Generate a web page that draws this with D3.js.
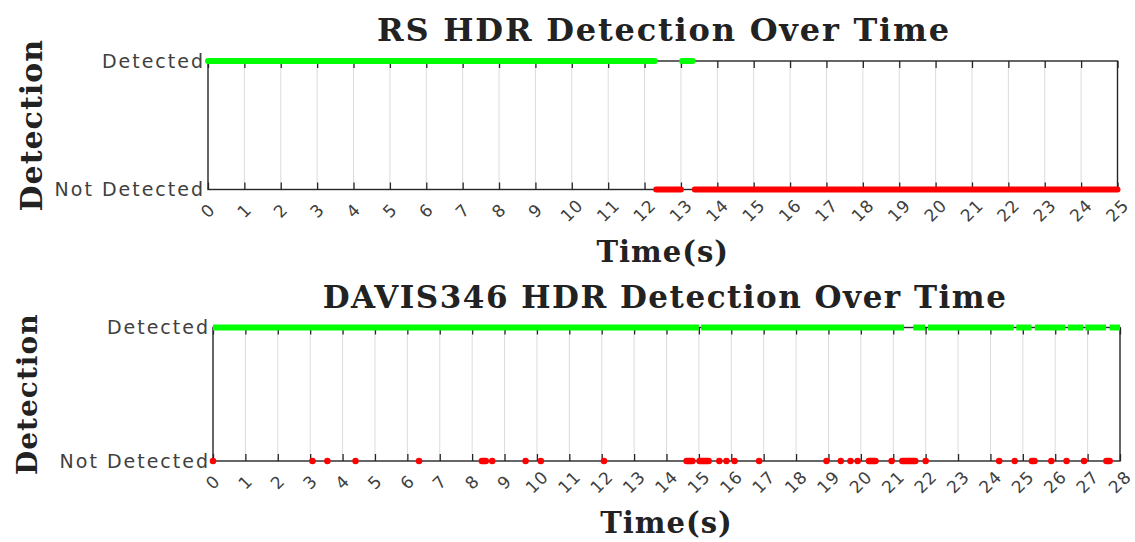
<!DOCTYPE html>
<html>
<head>
<meta charset="utf-8">
<script src="https://cdn.jsdelivr.net/npm/d3@7"></script>
<style>
  body { margin: 0; background: #fff; }
  svg { display: block; }
  .title, .xlabel, .ylabel { font-family: 'DejaVu Serif', serif; font-weight: bold; fill: #222; }
  .tick-label { font-family: 'DejaVu Sans', sans-serif; fill: #404040; }
</style>
</head>
<body>
<svg id="chart" width="1135" height="542"></svg>
<script>
// RS camera: detected / not detected intervals, seconds
const rsTicks = d3.range(0, 26);
const rsDetected = [[0, 12.28], [13.03, 13.32]];
const rsNotDetected = [[12.32, 13.0], [13.38, 25]];

// DAVIS346 camera
const davisTicks = d3.range(0, 29);
const davisDetected = [
    [0, 15.0], [15.07, 21.33], [21.62, 21.98], [22.07, 24.72], [24.8, 25.27],
    [25.37, 26.31], [26.39, 26.86], [26.93, 27.57], [27.68, 28]
];
const davisNotDetected = [
    [0, 0], [3.07, 3.07], [3.53, 3.53], [4.4, 4.4], [6.36, 6.36], [8.3, 8.42],
    [8.62, 8.62], [9.65, 9.65], [10.12, 10.12], [12.07, 12.07], [14.62, 14.8],
    [15.02, 15.3], [15.63, 15.63], [15.85, 15.85], [16.1, 16.1], [16.86, 16.86],
    [18.94, 18.94], [19.38, 19.38], [19.68, 19.68], [19.9, 19.9], [20.25, 20.45],
    [20.95, 20.95], [21.28, 21.68], [22.0, 22.0], [24.27, 24.27], [24.75, 24.75],
    [25.28, 25.36], [25.88, 25.88], [26.35, 26.35], [26.89, 26.89], [27.58, 27.68]
];

const yCategories = ['Not Detected', 'Detected'];

const svg = d3.select('#chart');

function drawPanel(cfg) {
    var x = d3.scaleLinear().domain(cfg.xDomain).range([cfg.left, cfg.right]);
    var y = d3.scalePoint().domain(yCategories).range([cfg.bottom, cfg.top]);
    var g = svg.append('g');

    // grid
    g.append('g').selectAll('line')
        .data(cfg.ticks.slice(1, -1))
        .enter().append('line')
        .attr('x1', d => x(d)).attr('x2', d => x(d))
        .attr('y1', cfg.top).attr('y2', cfg.bottom)
        .attr('stroke', '#dcdcdc').attr('stroke-width', 1);

    // inward ticks, bottom and top
    var xb = d3.axisTop(x).tickValues(cfg.ticks).tickSize(7).tickFormat('');
    var xt = d3.axisBottom(x).tickValues(cfg.ticks).tickSize(7).tickFormat('');
    g.append('g').attr('transform', 'translate(0,' + cfg.bottom + ')').call(xb)
        .call(s => s.select('.domain').remove())
        .selectAll('line').attr('stroke', '#262626').attr('stroke-width', 1.3);
    g.append('g').attr('transform', 'translate(0,' + cfg.top + ')').call(xt)
        .call(s => s.select('.domain').remove())
        .selectAll('line').attr('stroke', '#262626').attr('stroke-width', 1.3);

    // box
    g.append('rect')
        .attr('x', cfg.left).attr('y', cfg.top)
        .attr('width', cfg.right - cfg.left).attr('height', cfg.bottom - cfg.top)
        .attr('fill', 'none').attr('stroke', '#262626').attr('stroke-width', 1.4);

    // x tick labels
    g.append('g').selectAll('text')
        .data(cfg.ticks)
        .enter().append('text')
        .attr('class', 'tick-label')
        .attr('transform', d => 'translate(' + x(d) + ',' + (cfg.bottom + 21) + ') rotate(-45)')
        .attr('text-anchor', 'middle')
        .attr('dy', '0.35em')
        .style('font-size', cfg.tickSize + 'px')
        .style('letter-spacing', '1px')
        .text(d => d);

    // y tick labels
    g.append('g').selectAll('text')
        .data(yCategories)
        .enter().append('text')
        .attr('class', 'tick-label')
        .attr('x', cfg.left - 3)
        .attr('y', d => y(d))
        .attr('dy', '0.36em')
        .attr('text-anchor', 'end')
        .style('font-size', '19px')
        .style('letter-spacing', '2px')
        .text(d => d);

    // detection series
    function drawRuns(data, level, color, width, cap) {
        g.append('g').selectAll('line')
            .data(data)
            .enter().append('line')
            .attr('x1', d => x(d[0])).attr('x2', d => x(d[1]))
            .attr('y1', y(level)).attr('y2', y(level))
            .attr('stroke', color)
            .attr('stroke-width', width)
            .attr('stroke-linecap', cap);
    }
    drawRuns(cfg.detected, 'Detected', '#00ff00', cfg.lineWidth, cfg.detCap);
    drawRuns(cfg.notDetected, 'Not Detected', '#ff0000', cfg.redWidth, 'round');

    // title & labels
    svg.append('text').attr('class', 'title')
        .attr('x', cfg.titleX).attr('y', cfg.titleY)
        .attr('text-anchor', 'middle')
        .style('font-size', cfg.titleSize + 'px')
        .style('letter-spacing', cfg.titleSpacing + 'px')
        .text(cfg.title);
    svg.append('text').attr('class', 'xlabel')
        .attr('x', (cfg.left + cfg.right) / 2).attr('y', cfg.bottom + 72)
        .attr('text-anchor', 'middle')
        .style('font-size', '29px')
        .style('letter-spacing', '1px')
        .text('Time(s)');
    svg.append('text').attr('class', 'ylabel')
        .attr('transform', 'translate(' + cfg.ylabelX + ',' + ((cfg.top + cfg.bottom) / 2) + ') rotate(-90)')
        .attr('text-anchor', 'middle')
        .style('font-size', cfg.labelSize + 'px')
        .style('letter-spacing', '1px')
        .text('Detection');
}

drawPanel({
    title: 'RS HDR Detection Over Time',
    xDomain: [0, 25], ticks: rsTicks,
    detected: rsDetected, notDetected: rsNotDetected,
    left: 208, right: 1117.5, top: 61, bottom: 189.5,
    titleX: 664, titleY: 41, titleSize: 32, titleSpacing: 1.8, labelSize: 30,
    ylabelX: 42, tickSize: 17, lineWidth: 6, redWidth: 6, detCap: 'round'
});

drawPanel({
    title: 'DAVIS346 HDR Detection Over Time',
    xDomain: [0, 28], ticks: davisTicks,
    detected: davisDetected, notDetected: davisNotDetected,
    left: 213, right: 1120, top: 327.5, bottom: 461,
    titleX: 665, titleY: 308, titleSize: 31, titleSpacing: 1.5, labelSize: 28,
    ylabelX: 37, tickSize: 17, lineWidth: 6, redWidth: 6.5, detCap: 'butt'
});
</script>
</body>
</html>
